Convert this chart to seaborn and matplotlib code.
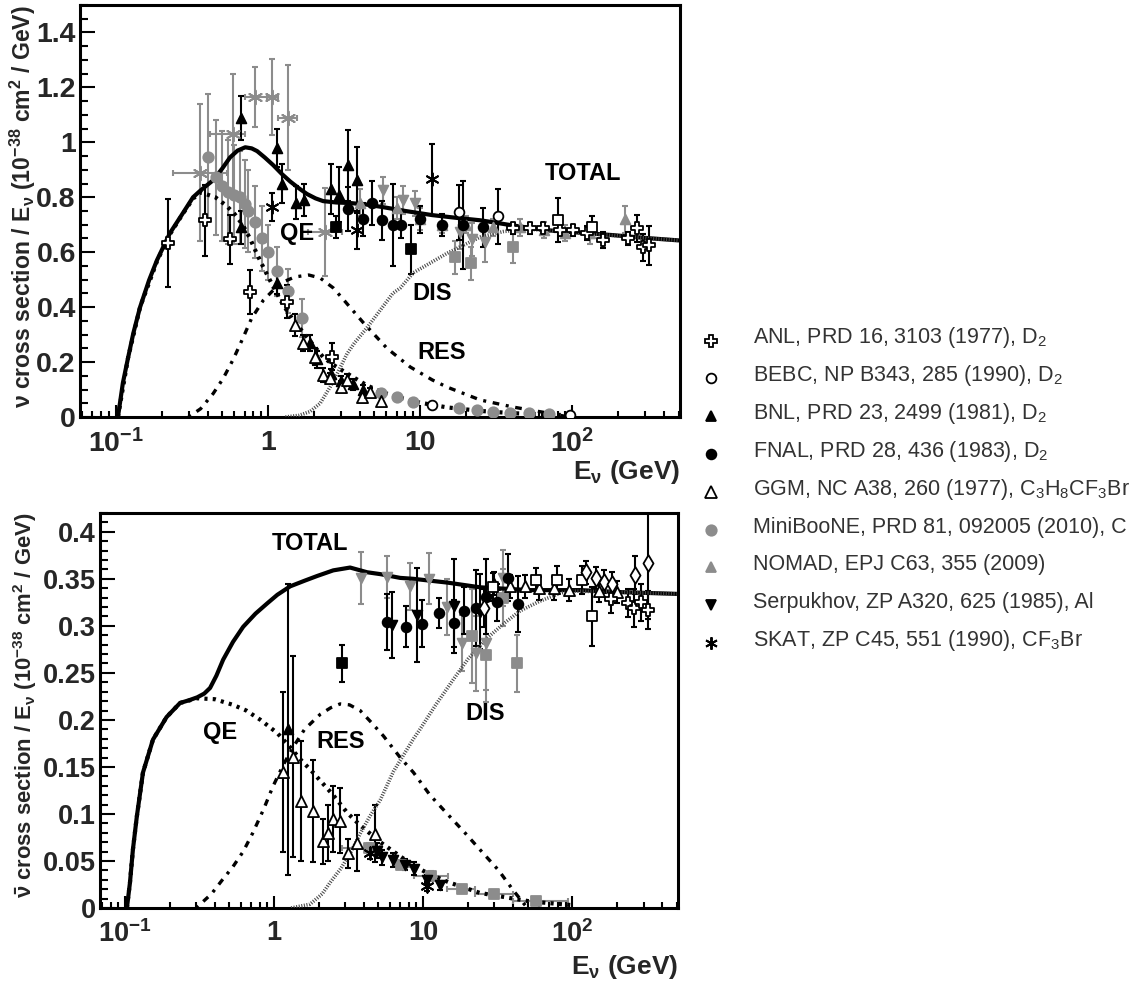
import numpy as np
import matplotlib
matplotlib.use("Agg")
import matplotlib.pyplot as plt
import seaborn as sns
from matplotlib.ticker import FixedLocator, NullFormatter, MultipleLocator

sns.set_theme(style="white")
plt.rcParams['font.family'] = ['Liberation Sans', 'DejaVu Sans']
plt.rcParams['mathtext.default'] = 'regular'

# ---------------- model curves: neutrino (top) ----------------
TOP_TOT_E = [0.103, 0.111, 0.12, 0.13, 0.144, 0.165, 0.186, 0.226, 0.27, 0.321, 0.36, 0.435, 0.50, 0.562, 0.63,
             0.707, 0.78, 0.847, 0.95, 1.08, 1.23, 1.40, 1.60, 1.80, 2.05, 2.30, 2.8, 3.47, 4.5, 5.7, 8, 12, 18,
             25, 40, 68, 120, 186, 300, 500]
TOP_TOT_S = [0.0, 0.124, 0.215, 0.305, 0.40, 0.498, 0.571, 0.669, 0.735, 0.80, 0.825, 0.862, 0.905, 0.945, 0.970,
             0.982, 0.978, 0.968, 0.945, 0.917, 0.885, 0.857, 0.832, 0.812, 0.796, 0.786, 0.781, 0.779, 0.773,
             0.764, 0.750, 0.735, 0.724, 0.716, 0.698, 0.68, 0.670, 0.662, 0.652, 0.643]
TOP_QE_E = [0.103, 0.12, 0.144, 0.186, 0.226, 0.27, 0.321, 0.36, 0.45, 0.53, 0.6, 0.68, 0.76, 0.85, 0.95, 1.08,
            1.25, 1.46, 1.7, 1.98, 2.3, 2.68, 3.5, 4.47, 5.5, 7.4, 10, 15, 25, 40, 60, 100]
TOP_QE_S = [0.0, 0.215, 0.40, 0.567, 0.665, 0.733, 0.795, 0.818, 0.80, 0.77, 0.74, 0.70, 0.65, 0.59, 0.535, 0.475,
            0.41, 0.353, 0.308, 0.262, 0.218, 0.19, 0.15, 0.115, 0.092, 0.07, 0.052, 0.035, 0.022, 0.014, 0.01, 0.006]
TOP_RES_E = [0.3, 0.36, 0.435, 0.506, 0.59, 0.68, 0.78, 0.93, 1.2, 1.5, 1.85, 2.2, 2.68, 3.1, 4.2, 6.05, 8.6,
             12, 15, 24.8, 41, 68, 95]
TOP_RES_S = [0.0, 0.03, 0.085, 0.14, 0.21, 0.285, 0.36, 0.425, 0.487, 0.51, 0.517, 0.506, 0.47, 0.43, 0.345,
             0.25, 0.182, 0.135, 0.109, 0.062, 0.036, 0.015, 0.0]
TOP_DIS_E = [1.3, 1.6, 1.89, 2.2, 2.56, 2.8, 3.3, 3.7, 4.47, 5.46, 6.6, 7.4, 9, 12, 15, 20, 24.8, 35, 50, 80,
             120, 186, 300, 500]
TOP_DIS_S = [0.0, 0.006, 0.02, 0.05, 0.11, 0.15, 0.23, 0.27, 0.325, 0.389, 0.45, 0.47, 0.525, 0.565, 0.596,
             0.63, 0.655, 0.675, 0.685, 0.675, 0.668, 0.661, 0.652, 0.643]

# ---------------- model curves: antineutrino (bottom) ----------------
BOT_TOT_E = [0.103, 0.108, 0.113, 0.12, 0.132, 0.154, 0.19, 0.234, 0.27, 0.305, 0.34, 0.372, 0.41, 0.455, 0.53,
             0.62, 0.75, 0.9, 1.05, 1.28, 1.6, 1.94, 2.49, 3.23, 4.2, 5.15, 7.0, 8.6, 14.5, 24, 52, 113, 200, 500]
BOT_TOT_S = [0.0, 0.027, 0.062, 0.097, 0.144, 0.179, 0.203, 0.218, 0.221, 0.224, 0.228, 0.234, 0.247, 0.264,
             0.283, 0.299, 0.313, 0.324, 0.333, 0.342, 0.348, 0.353, 0.359, 0.362, 0.357, 0.355, 0.351, 0.350,
             0.346, 0.341, 0.338, 0.338, 0.336, 0.334]
BOT_QE_E = [0.103, 0.108, 0.113, 0.12, 0.132, 0.154, 0.19, 0.234, 0.305, 0.4, 0.53, 0.65, 0.81, 1.05, 1.28, 1.5,
            1.8, 2.49, 3.1, 3.77, 5.15, 7, 8.6, 11, 15, 24, 52, 100]
BOT_QE_S = [0.0, 0.027, 0.062, 0.097, 0.144, 0.179, 0.203, 0.218, 0.223, 0.222, 0.216, 0.21, 0.2, 0.186, 0.171,
            0.158, 0.145, 0.12, 0.101, 0.088, 0.07, 0.055, 0.045, 0.036, 0.027, 0.016, 0.007, 0.003]
BOT_RES_E = [0.3, 0.38, 0.45, 0.53, 0.62, 0.72, 0.85, 0.98, 1.15, 1.34, 1.6, 2.04, 2.4, 2.77, 3.2, 3.77, 4.5,
             5.4, 7, 8.6, 11.1, 14.5, 19, 24, 32, 40, 47, 50]
BOT_RES_S = [0.0, 0.015, 0.03, 0.044, 0.06, 0.08, 0.105, 0.129, 0.152, 0.171, 0.19, 0.206, 0.213, 0.217, 0.216,
             0.21, 0.197, 0.183, 0.16, 0.144, 0.12, 0.1, 0.08, 0.062, 0.04, 0.019, 0.005, 0.0]
BOT_DIS_E = [1.3, 1.74, 2.1, 2.37, 2.8, 3.23, 3.8, 4.4, 5.15, 6.3, 8.6, 9.5, 12, 15.9, 20, 26.8, 35, 44.6, 60,
             83, 100, 200, 500]
BOT_DIS_S = [0.0, 0.004, 0.015, 0.027, 0.042, 0.058, 0.08, 0.098, 0.115, 0.145, 0.18, 0.19, 0.215, 0.243, 0.265,
             0.287, 0.303, 0.316, 0.326, 0.335, 0.337, 0.336, 0.334]

# ---------------- data: neutrino (top) ----------------
T_ANL_X = [0.22, 0.385, 0.56, 0.76, 1.33, 2.63, 41, 53, 64, 83, 101, 125, 160, 233, 266, 293, 320]
T_ANL_Y = [0.633, 0.716, 0.647, 0.455, 0.42, 0.22, 0.687, 0.687, 0.687, 0.68, 0.68, 0.669, 0.644, 0.65, 0.687,
           0.618, 0.625]
T_ANL_DY = [0.16, 0.13, 0.09, 0.08, 0.06, 0.05, 0.02, 0.02, 0.02, 0.02, 0.02, 0.025, 0.03, 0.025, 0.05, 0.05, 0.07]
T_BEBC_X = [18, 32.6, 12, 97]
T_BEBC_Y = [0.745, 0.73, 0.044, 0.007]
T_BEBC_DY = [0.1, 0.1, 0.01, 0.012]
T_BNL_X = [0.66, 0.66, 1.14, 1.24, 1.53, 1.72, 2.6, 2.93, 3.36, 3.85, 1.14, 1.89, 2.1, 2.6, 3.0, 3.6, 4.2]
T_BNL_Y = [1.09, 0.69, 0.98, 0.85, 0.78, 0.79, 0.83, 0.81, 0.916, 0.862, 0.487, 0.27, 0.21, 0.155, 0.13, 0.12, 0.10]
T_BNL_DY = [0.08, 0.06, 0.07, 0.07, 0.06, 0.06, 0.09, 0.1, 0.13, 0.12, 0.04, 0.03, 0.03, 0.02, 0.02, 0.02, 0.015]
T_FNAL_X = [3.36, 4.2, 4.8, 5.6, 6.6, 7.5, 10, 14, 19, 26]
T_FNAL_Y = [0.756, 0.72, 0.778, 0.716, 0.70, 0.70, 0.72, 0.70, 0.70, 0.69]
T_FNAL_DY = [0.08, 0.06, 0.08, 0.07, 0.15, 0.05, 0.05, 0.04, 0.16, 0.07]
T_GGM_X = [1.5, 1.7, 2.04, 2.3, 2.56, 3.0, 3.3, 4.15, 4.7, 5.5]
T_GGM_Y = [0.335, 0.27, 0.22, 0.153, 0.142, 0.11, 0.135, 0.073, 0.09, 0.06]
T_GGM_DY = [0.04, 0.03, 0.03, 0.025, 0.02, 0.02, 0.02, 0.015, 0.015, 0.015]
T_MB_X = [0.40, 0.455, 0.50, 0.545, 0.60, 0.655, 0.70, 0.74, 0.82, 0.91, 1.0, 1.14, 1.36, 1.67]
T_MB_Y = [0.945, 0.873, 0.84, 0.82, 0.81, 0.80, 0.775, 0.75, 0.71, 0.65, 0.60, 0.53, 0.46, 0.36]
T_MB_DY = [0.23, 0.21, 0.2, 0.19, 0.18, 0.17, 0.16, 0.15, 0.13, 0.12, 0.1, 0.09, 0.08, 0.07]
T_NOMAD_X = [4, 7, 10, 14, 20, 30, 45, 65, 90, 130, 223]
T_NOMAD_Y = [0.78, 0.76, 0.72, 0.70, 0.70, 0.69, 0.69, 0.68, 0.67, 0.67, 0.72]
T_NOMAD_DY = [0.05, 0.04, 0.04, 0.03, 0.03, 0.03, 0.03, 0.03, 0.03, 0.04, 0.05]
T_GTRID_X = [5.7, 7.7, 9.3, 18.3, 22, 26.8]
T_GTRID_Y = [0.825, 0.79, 0.778, 0.673, 0.647, 0.636]
T_GTRID_DY = [0.05, 0.05, 0.045, 0.06, 0.06, 0.07]
T_GSQ_X = [17, 21.6, 41]
T_GSQ_Y = [0.582, 0.56, 0.62]
T_GSQ_DY = [0.06, 0.06, 0.06]
T_FSQ_X = [2.8, 8.7]
T_FSQ_Y = [0.69, 0.61]
T_FSQ_DY = [0.04, 0.09]
T_OSQ_X = [80, 135]
T_OSQ_Y = [0.716, 0.69]
T_OSQ_DY = [0.08, 0.04]
T_SKAT_X = [1.06, 3.85, 12]
T_SKAT_Y = [0.764, 0.68, 0.865]
T_SKAT_DY = [0.05, 0.07, 0.13]
T_GSTAR_X = [0.357, 0.59, 0.82, 1.06, 1.36, 2.37]
T_GSTAR_Y = [0.89, 1.03, 1.165, 1.165, 1.09, 0.673]
T_GSTAR_DY = [0.25, 0.22, 0.11, 0.14, 0.19, 0.16]
T_GSTAR_XLO = [0.237, 0.415, 0.705, 0.985, 1.16, 1.83]
T_GSTAR_XHI = [0.537, 0.705, 0.985, 1.16, 1.55, 3.07]
T_TAIL_X = [5.5, 7, 9, 18, 23.5, 30, 39, 52, 70]
T_TAIL_Y = [0.087, 0.073, 0.055, 0.033, 0.025, 0.02, 0.015, 0.015, 0.01]
T_TAIL_DY = [0.012, 0.01, 0.01, 0.008, 0.006, 0.005, 0.004, 0.004, 0.004]

# ---------------- data: antineutrino (bottom) ----------------
B_GGM_X = [1.15, 1.34, 1.52, 1.83, 2.13, 2.3, 2.49, 2.77, 3.14, 3.6, 4.76, 30, 38, 48, 60, 75, 95, 150, 200]
B_GGM_Y = [0.145, 0.161, 0.114, 0.103, 0.071, 0.08, 0.095, 0.093, 0.058, 0.069, 0.079, 0.345, 0.342, 0.342,
           0.34, 0.34, 0.338, 0.337, 0.336]
B_GGM_DY = [0.085, 0.107, 0.064, 0.054, 0.024, 0.03, 0.035, 0.035, 0.015, 0.03, 0.03, 0.012, 0.012, 0.012,
            0.012, 0.012, 0.012, 0.012, 0.012]
B_BNL_X = [1.24]
B_BNL_Y = [0.19]
B_BNL_DY = [0.155]
B_FNAL_X = [5.7, 7.6, 9.8, 12.8, 16, 18.8, 22.6, 26.5, 31.4, 37, 43.4]
B_FNAL_Y = [0.304, 0.299, 0.302, 0.314, 0.303, 0.316, 0.319, 0.331, 0.325, 0.351, 0.323]
B_FNAL_DY = [0.03, 0.022, 0.025, 0.016, 0.025, 0.025, 0.04, 0.04, 0.02, 0.025, 0.03]
B_SERP_X = [6.2, 9.1, 16.1, 24, 4.9, 5.3, 6.3, 7.5, 8.6, 10.6, 13]
B_SERP_Y = [0.301, 0.312, 0.321, 0.315, 0.061, 0.054, 0.051, 0.046, 0.042, 0.030, 0.024]
B_SERP_DY = [0.035, 0.05, 0.05, 0.04, 0.008, 0.008, 0.007, 0.006, 0.007, 0.005, 0.005]
B_GTRID_X = [3.83, 5.72, 8.2, 11, 14.5, 18.3, 22.4, 26.5, 34]
B_GTRID_Y = [0.351, 0.352, 0.342, 0.35, 0.32, 0.282, 0.271, 0.282, 0.351]
B_GTRID_DY = [0.028, 0.022, 0.025, 0.027, 0.03, 0.03, 0.04, 0.05, 0.03]
B_FSQ_X = [2.86]
B_FSQ_Y = [0.26]
B_FSQ_DY = [0.02]
B_GSQ_X = [21.3, 26.5, 34, 42.7]
B_GSQ_Y = [0.289, 0.269, 0.33, 0.26]
B_GSQ_DY = [0.05, 0.05, 0.03, 0.03]
B_GSQX_X = [4.35, 7.1, 11.3, 18.3, 30, 57]
B_GSQX_Y = [0.064, 0.046, 0.034, 0.020, 0.015, 0.007]
B_GSQX_DY = [0.005, 0.005, 0.005, 0.004, 0.004, 0.003]
B_GSQX_XLO = [2.86, 6.3, 8.6, 14.5, 22.3, 40]
B_GSQX_XHI = [5.15, 8.0, 14.7, 22.3, 40, 94]
B_OSQ_X = [29.5, 57, 79, 115, 136]
B_OSQ_Y = [0.341, 0.349, 0.349, 0.349, 0.31]
B_OSQ_DY = [0.015, 0.012, 0.015, 0.015, 0.031]
B_ODIA_X = [25.6, 124, 144, 162, 183, 261, 323]
B_ODIA_Y = [0.319, 0.357, 0.351, 0.347, 0.345, 0.354, 0.367]
B_ODIA_DY = [0.02, 0.012, 0.012, 0.012, 0.012, 0.02, 0.06]
B_OCROSS_X = [180, 234, 258, 289, 323]
B_OCROSS_Y = [0.329, 0.324, 0.319, 0.325, 0.317]
B_OCROSS_DY = [0.015, 0.015, 0.02, 0.02, 0.02]
B_SKAT_X = [4.4, 10.6]
B_SKAT_Y = [0.058, 0.023]
B_SKAT_DY = [0.006, 0.005]

# ---------------- legend labels ----------------
LEG_LABELS = ["ANL, PRD 16, 3103 (1977), D$_2$",
              "BEBC, NP B343, 285 (1990), D$_2$",
              "BNL, PRD 23, 2499 (1981), D$_2$",
              "FNAL, PRD 28, 436 (1983), D$_2$",
              "GGM, NC A38, 260 (1977), C$_3$H$_8$CF$_3$Br",
              "MiniBooNE, PRD 81, 092005 (2010), C",
              "NOMAD, EPJ C63, 355 (2009)",
              "Serpukhov, ZP A320, 625 (1985), Al",
              "SKAT, ZP C45, 551 (1990), CF$_3$Br"]
LEG_STYLES = ['ocross', 'ocirc', 'ftri', 'fcirc', 'otri', 'gcirc', 'gtri', 'ftrid', 'star']

GRAY = '#8c8c8c'
STY = {
    'ocross': dict(marker='P', face='white', edge='black', ms=8.5, col='black'),
    'ocirc': dict(marker='o', face='white', edge='black', ms=7, col='black'),
    'ftri': dict(marker='^', face='black', edge='black', ms=7, col='black'),
    'fcirc': dict(marker='o', face='black', edge='black', ms=7, col='black'),
    'otri': dict(marker='^', face='white', edge='black', ms=8, col='black'),
    'gcirc': dict(marker='o', face=GRAY, edge=GRAY, ms=7.5, col=GRAY),
    'gtri': dict(marker='^', face=GRAY, edge=GRAY, ms=7, col=GRAY),
    'ftrid': dict(marker='v', face='black', edge='black', ms=7, col='black'),
    'gtrid': dict(marker='v', face=GRAY, edge=GRAY, ms=7, col=GRAY),
    'star': dict(marker=(6, 2, 0), face='black', edge='black', ms=9, col='black'),
    'gstar': dict(marker=(6, 2, 0), face=GRAY, edge=GRAY, ms=10, col=GRAY),
    'fsq': dict(marker='s', face='black', edge='black', ms=6.5, col='black'),
    'gsq': dict(marker='s', face=GRAY, edge=GRAY, ms=6.5, col=GRAY),
    'osq': dict(marker='s', face='white', edge='black', ms=7, col='black'),
    'odia': dict(marker='d', face='white', edge='black', ms=8.5, col='black'),
}


def draw(ax, x, y, dy, sty, xlo=None, xhi=None):
    s = STY[sty]
    xerr = None
    if xlo is not None:
        xerr = [np.subtract(x, xlo), np.subtract(xhi, x)]
    ax.errorbar(x, y, yerr=dy, xerr=xerr, fmt='none', ecolor=s['col'], elinewidth=1.5,
                capsize=2.2, capthick=1.5, zorder=2)
    m = matplotlib.markers.MarkerStyle(s['marker'])
    kw = dict(x=x, y=y, ax=ax, marker=s['marker'], s=s['ms'] ** 2, zorder=4, legend=False)
    if m.is_filled():
        sns.scatterplot(color=s['face'], edgecolor=s['edge'], linewidth=1.3, **kw)
    else:
        sns.scatterplot(color=s['edge'], linewidth=1.4, **kw)


def curves(ax, tot, qe, res, dis):
    sns.lineplot(x=tot[0], y=tot[1], ax=ax, sort=False, estimator=None, color='black', lw=3.0, zorder=3)
    sns.lineplot(x=qe[0], y=qe[1], ax=ax, sort=False, estimator=None, color='black', lw=3.0,
                 linestyle=(0, (0.75, 1.25)), zorder=3)
    sns.lineplot(x=res[0], y=res[1], ax=ax, sort=False, estimator=None, color='black', lw=2.4,
                 linestyle=(0, (0.9, 2.0, 2.0, 2.0)), zorder=3)
    sns.lineplot(x=dis[0], y=dis[1], ax=ax, sort=False, estimator=None, color='#4a4a4a', lw=2.6,
                 linestyle=(0, (0.3, 0.42)), zorder=3)


def setup(ax, xlim, ylim, ymajor, yminor, ylabels, fs):
    ax.set_xscale('log')
    ax.set_xlim(*xlim)
    ax.set_ylim(*ylim)
    ax.xaxis.set_major_locator(FixedLocator([0.1, 1, 10, 100]))
    ax.set_xticklabels(['10$^{-1}$', '1', '10', '10$^{2}$'])
    ax.xaxis.set_minor_locator(FixedLocator([m * 10.0 ** d for d in range(-2, 3) for m in range(2, 10)]))
    ax.xaxis.set_minor_formatter(NullFormatter())
    ax.yaxis.set_major_locator(FixedLocator(ymajor))
    ax.set_yticklabels(ylabels)
    ax.yaxis.set_minor_locator(MultipleLocator(yminor))
    ax.tick_params(axis='both', which='both', direction='in', color='black', width=1.5,
                   bottom=True, left=True, top=False, right=False)
    ax.tick_params(axis='x', which='major', length=9, pad=9, labelsize=fs)
    ax.tick_params(axis='x', which='minor', length=4.5)
    ax.tick_params(axis='y', which='major', length=11, pad=3, labelsize=fs)
    ax.tick_params(axis='y', which='minor', length=5.5)
    for lab in ax.get_xticklabels() + ax.get_yticklabels():
        lab.set_fontweight('bold')
    for sp in ax.spines.values():
        sp.set_linewidth(2.2)
        sp.set_color('black')
    ax.grid(False)


fig = plt.figure(figsize=(11.43, 9.85), dpi=100)
W, H = 1143.0, 985.0
ax1 = fig.add_axes([80 / W, 1 - 417 / H, 600 / W, 412 / H])
ax2 = fig.add_axes([100 / W, 1 - 908 / H, 578 / W, 395 / H])

setup(ax1, (0.058, 510), (0, 1.5), [0, 0.2, 0.4, 0.6, 0.8, 1.0, 1.2, 1.4], 0.05,
      ['0', '0.2', '0.4', '0.6', '0.8', '1', '1.2', '1.4'], 20.5)
setup(ax2, (0.068, 510), (0, 0.42), [0, 0.05, 0.1, 0.15, 0.2, 0.25, 0.3, 0.35, 0.4], 0.01,
      ['0', '0.05', '0.1', '0.15', '0.2', '0.25', '0.3', '0.35', '0.4'], 19.5)

# ---- top panel ----
curves(ax1, (TOP_TOT_E, TOP_TOT_S), (TOP_QE_E, TOP_QE_S), (TOP_RES_E, TOP_RES_S), (TOP_DIS_E, TOP_DIS_S))
draw(ax1, T_GSTAR_X, T_GSTAR_Y, T_GSTAR_DY, 'gstar', T_GSTAR_XLO, T_GSTAR_XHI)
draw(ax1, T_MB_X, T_MB_Y, T_MB_DY, 'gcirc')
draw(ax1, T_NOMAD_X, T_NOMAD_Y, T_NOMAD_DY, 'gtri')
draw(ax1, T_GTRID_X, T_GTRID_Y, T_GTRID_DY, 'gtrid')
draw(ax1, T_GSQ_X, T_GSQ_Y, T_GSQ_DY, 'gsq')
draw(ax1, T_TAIL_X, T_TAIL_Y, T_TAIL_DY, 'gcirc')
draw(ax1, T_ANL_X, T_ANL_Y, T_ANL_DY, 'ocross')
draw(ax1, T_BEBC_X, T_BEBC_Y, T_BEBC_DY, 'ocirc')
draw(ax1, T_BNL_X, T_BNL_Y, T_BNL_DY, 'ftri')
draw(ax1, T_FNAL_X, T_FNAL_Y, T_FNAL_DY, 'fcirc')
draw(ax1, T_GGM_X, T_GGM_Y, T_GGM_DY, 'otri')
draw(ax1, T_FSQ_X, T_FSQ_Y, T_FSQ_DY, 'fsq')
draw(ax1, T_OSQ_X, T_OSQ_Y, T_OSQ_DY, 'osq')
draw(ax1, T_SKAT_X, T_SKAT_Y, T_SKAT_DY, 'star')

tkw = dict(fontsize=17, fontweight='bold', ha='center', va='center', color='black')
ax1.text(118, 0.887, 'TOTAL', **tkw)
ax1.text(1.55, 0.669, 'QE', **tkw)
ax1.text(12, 0.451, 'DIS', **tkw)
ax1.text(13.9, 0.236, 'RES', **tkw)

# ---- bottom panel ----
curves(ax2, (BOT_TOT_E, BOT_TOT_S), (BOT_QE_E, BOT_QE_S), (BOT_RES_E, BOT_RES_S), (BOT_DIS_E, BOT_DIS_S))
draw(ax2, B_GTRID_X, B_GTRID_Y, B_GTRID_DY, 'gtrid')
draw(ax2, B_GSQ_X, B_GSQ_Y, B_GSQ_DY, 'gsq')
draw(ax2, B_GSQX_X, B_GSQX_Y, B_GSQX_DY, 'gsq', B_GSQX_XLO, B_GSQX_XHI)
draw(ax2, B_GGM_X, B_GGM_Y, B_GGM_DY, 'otri')
draw(ax2, B_BNL_X, B_BNL_Y, B_BNL_DY, 'ftri')
draw(ax2, B_FNAL_X, B_FNAL_Y, B_FNAL_DY, 'fcirc')
draw(ax2, B_SERP_X, B_SERP_Y, B_SERP_DY, 'ftrid')
draw(ax2, B_FSQ_X, B_FSQ_Y, B_FSQ_DY, 'fsq')
draw(ax2, B_OSQ_X, B_OSQ_Y, B_OSQ_DY, 'osq')
draw(ax2, B_ODIA_X, B_ODIA_Y, B_ODIA_DY, 'odia')
draw(ax2, B_OCROSS_X, B_OCROSS_Y, B_OCROSS_DY, 'ocross')
draw(ax2, B_SKAT_X, B_SKAT_Y, B_SKAT_DY, 'star')

ax2.text(1.74, 0.388, 'TOTAL', **tkw)
ax2.text(0.434, 0.187, 'QE', **tkw)
ax2.text(2.77, 0.177, 'RES', **tkw)
ax2.text(26, 0.207, 'DIS', **tkw)

# ---- axis labels ----
ax1.set_ylabel('ν cross section / E$_ν$ (10$^{-38}$ cm$^2$ / GeV)', loc='top', fontsize=16.6,
               fontweight='bold')
ax1.yaxis.set_label_coords(-0.07, 1.0)
ax2.set_ylabel(r'$\bar{ν}$ cross section / E$_ν$ (10$^{-38}$ cm$^2$ / GeV)', loc='top', fontsize=15.8,
               fontweight='bold')
ax2.yaxis.set_label_coords(-0.105, 1.0)
ax1.set_xlabel('E$_ν$ (GeV)', loc='right', fontsize=19, fontweight='bold')
ax1.xaxis.set_label_coords(1.0, -0.10)
ax2.set_xlabel('E$_ν$ (GeV)', loc='right', fontsize=19, fontweight='bold')
ax2.xaxis.set_label_coords(1.0, -0.115)

# ---- legend ----
lax = fig.add_axes([0, 0, 1, 1])
lax.set_xlim(0, W)
lax.set_ylim(H, 0)
lax.axis('off')
for i, (lab, st) in enumerate(zip(LEG_LABELS, LEG_STYLES)):
    yy = 340.5 + i * 37.8
    s = STY[st]
    m = matplotlib.markers.MarkerStyle(s['marker'])
    if m.is_filled():
        lax.plot([711], [yy], marker=s['marker'], ms=s['ms'], mfc=s['face'], mec=s['edge'], mew=1.3, ls='none')
    else:
        lax.plot([711], [yy], marker=s['marker'], ms=s['ms'], color=s['edge'], mew=1.4, ls='none')
    lax.text(753, yy + 3, lab, fontsize=15.5, color='#333333', va='baseline', ha='left')

fig.savefig('out.png', dpi=100)
